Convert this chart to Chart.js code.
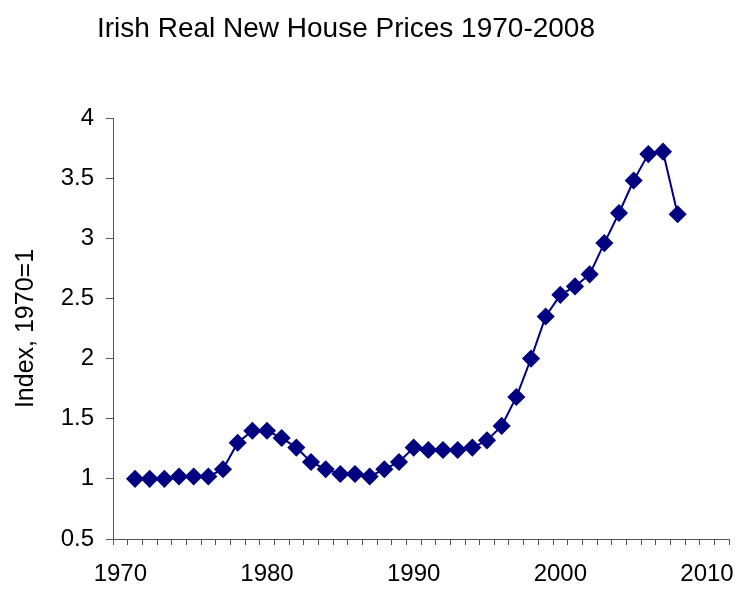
<!DOCTYPE html>
<html>
<head>
<meta charset="utf-8">
<script src="https://cdn.jsdelivr.net/npm/chart.js@4"></script>
<style>
  html, body { margin: 0; padding: 0; background: #fff; }
  #wrap { width: 741px; height: 593px; }
</style>
</head>
<body>
<div id="wrap"><canvas id="prices"></canvas></div>
<script>
// category axis runs 1970..2011, data only covers 1971..2008
var years = [1970, 1971, 1972, 1973, 1974, 1975, 1976, 1977, 1978, 1979,
             1980, 1981, 1982, 1983, 1984, 1985, 1986, 1987, 1988, 1989,
             1990, 1991, 1992, 1993, 1994, 1995, 1996, 1997, 1998, 1999,
             2000, 2001, 2002, 2003, 2004, 2005, 2006, 2007, 2008, 2009,
             2010, 2011];
var priceIndex = [null, 1.00, 1.00, 1.00, 1.02, 1.02, 1.02, 1.08, 1.30, 1.40,
                  1.40, 1.34, 1.26, 1.14, 1.08, 1.04, 1.04, 1.02, 1.08, 1.14,
                  1.26, 1.24, 1.24, 1.24, 1.26, 1.32, 1.44, 1.68, 2.00, 2.35,
                  2.53, 2.60, 2.70, 2.96, 3.21, 3.48, 3.70, 3.72, 3.20, null,
                  null, null];
var xTickLabels = ['1970', '1980', '1990', '2000', '2010'];
var yTicks = [0.5, 1, 1.5, 2, 2.5, 3, 3.5, 4];

var titleText = 'Irish Real New House Prices 1970-2008';
var fontFamily = '"Liberation Sans", Arial, Helvetica, sans-serif';

var titlePlugin = {
    id: 'plainTitle',
    afterDraw: function (chart) {
        var c = chart.ctx;
        c.save();
        c.font = '28px ' + fontFamily;
        c.fillStyle = '#000';
        c.textAlign = 'center';
        c.textBaseline = 'alphabetic';
        c.fillText(titleText, 346, 37);
        c.restore();
    }
};

var ctx = document.getElementById('prices').getContext('2d');
var chart = new Chart(ctx, {
    type: 'line',
    data: {
        labels: years,
        datasets: [{
            label: 'Index',
            data: priceIndex,
            borderColor: '#000080',
            backgroundColor: '#000080',
            borderWidth: 2,
            pointStyle: 'rectRot',
            pointRadius: 8,
            pointBorderWidth: 1.5,
            pointBackgroundColor: '#000080',
            pointBorderColor: '#000080',
            tension: 0,
            spanGaps: false
        }]
    },
    options: {
        responsive: true,
        maintainAspectRatio: false,
        animation: false,
        layout: { padding: { top: 118, right: 12, left: 0, bottom: 0 } },
        plugins: {
            legend: { display: false },
            tooltip: { enabled: false }
        },
        scales: {
            x: {
                type: 'category',
                offset: true,
                afterFit: function (s) { s.height = 54; },
                grid: {
                    offset: true,
                    drawOnChartArea: false,
                    drawTicks: true,
                    tickLength: 6,
                    color: '#555'
                },
                border: { display: true, color: '#555', width: 1 },
                ticks: {
                    autoSkip: false,
                    maxRotation: 0,
                    minRotation: 0,
                    padding: 15,
                    color: '#000',
                    font: { family: fontFamily, size: 24 },
                    callback: function (value) {
                        var lab = String(this.getLabelForValue(value));
                        return xTickLabels.indexOf(lab) >= 0 ? lab : '';
                    }
                }
            },
            y: {
                min: yTicks[0],
                max: yTicks[yTicks.length - 1],
                afterFit: function (s) { s.width = 113; },
                afterBuildTicks: function (s) {
                    s.ticks = yTicks.map(function (v) { return { value: v }; });
                },
                grid: {
                    drawOnChartArea: false,
                    drawTicks: true,
                    tickLength: 7,
                    color: '#555'
                },
                border: { display: true, color: '#555', width: 1 },
                ticks: {
                    padding: 12,
                    color: '#000',
                    font: { family: fontFamily, size: 24 },
                    callback: function (value) { return String(value); }
                },
                title: {
                    display: true,
                    text: 'Index, 1970=1',
                    color: '#000',
                    padding: { top: 11, bottom: 0 },
                    font: { family: fontFamily, size: 25 }
                }
            }
        }
    },
    plugins: [titlePlugin]
});
</script>
</body>
</html>
